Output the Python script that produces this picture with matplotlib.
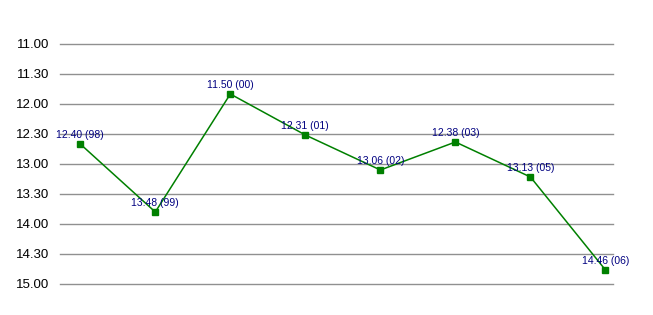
import matplotlib
matplotlib.use("Agg")
import matplotlib.pyplot as plt
from matplotlib.ticker import FixedLocator, FuncFormatter

# race times as minutes.seconds, with season
times = ["12.40", "13.48", "11.50", "12.31", "13.06", "12.38", "13.13", "14.46"]
seasons = ["98", "99", "00", "01", "02", "03", "05", "06"]
ytick_vals = [11, 11.5, 12, 12.5, 13, 13.5, 14, 14.5, 15]


def to_minutes(s):
    m, sec = s.split(".")
    return int(m) + int(sec) / 60.0


def fmt_time(v, pos=None):
    m = int(v)
    sec = int(round((v - m) * 60))
    return "%d.%02d" % (m, sec)


values = [to_minutes(t) for t in times]
xs = list(range(len(times)))

plt.rcParams["font.family"] = ["Liberation Sans", "DejaVu Sans"]

fig = plt.figure(figsize=(6.53, 3.15), dpi=100)
ax = fig.add_axes([60 / 653, 1 - 284 / 315, (613 - 60) / 653, (284 - 44) / 315])

ax.plot(xs, values, color="#008000", lw=1.1, marker="s", ms=5, mfc="#008000", mec="#008000", zorder=3)
for x, v, t, s in zip(xs, values, times, seasons):
    ax.annotate("%s (%s)" % (t, s), (x, v), xytext=(0, 3), textcoords="offset points",
                ha="center", va="bottom", fontsize=7.5, color="#000080", zorder=4)

ax.set_xlim(-0.27, 7.1)
ax.set_ylim(15, 11)
ax.yaxis.set_major_locator(FixedLocator(ytick_vals))
ax.yaxis.set_major_formatter(FuncFormatter(fmt_time))
ax.grid(axis="y", color="#909090", lw=1)
for gl in ax.get_ygridlines():
    gl.set_clip_on(False)
ax.set_axisbelow(True)
ax.set_xticks([])
ax.tick_params(axis="y", length=0, pad=8, labelsize=9.5)
for sp in ax.spines.values():
    sp.set_visible(False)

fig.savefig("out.png", dpi=100)
